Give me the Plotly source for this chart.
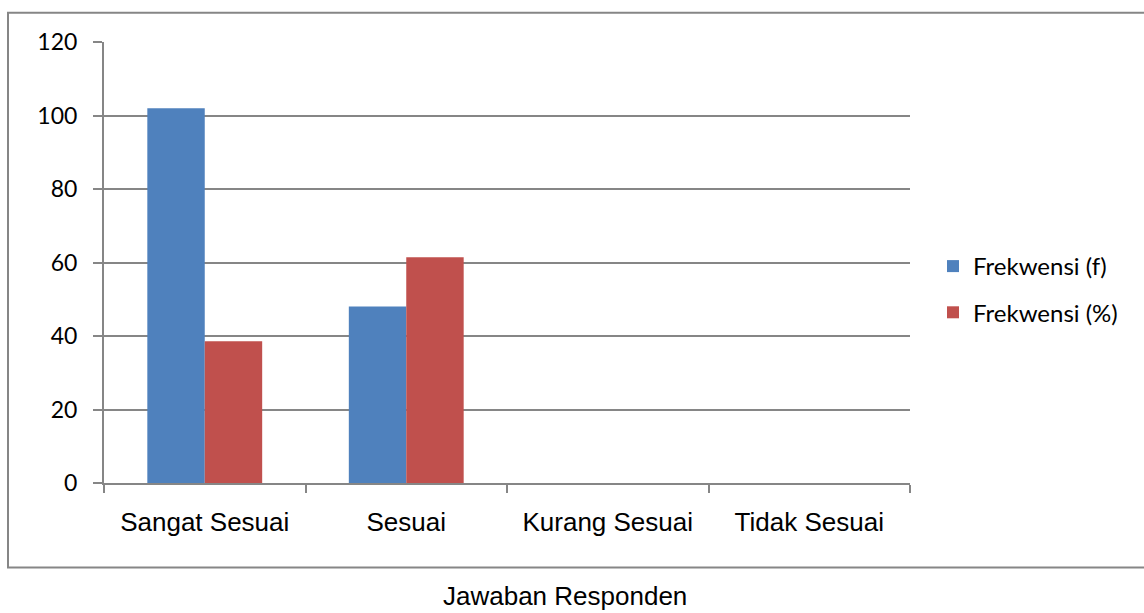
import plotly.graph_objects as go

# Kategori jawaban dan nilai tiap seri
categories = ["Sangat Sesuai", "Sesuai", "Kurang Sesuai", "Tidak Sesuai"]
freq_f = [102, 48, 0, 0]
freq_pct = [38.6, 61.4, 0, 0]
series_names = ["Frekwensi (f)", "Frekwensi (%)"]
y_ticks = [0, 20, 40, 60, 80, 100, 120]
x_title = "Jawaban Responden"

W, H = 1144, 613
L, R = 104, 910          # plot area left/right (px)
TOP, BOT = 42.3, 482.7   # plot area top/bottom (px)

def px_x(p):
    return (p - L) / (R - L)

def px_y(p):
    return (BOT - p) / (BOT - TOP)

GRAY = "#868686"
calibri_like = "Lato, 'Open Sans', sans-serif"
arial_like = "'Liberation Sans', Arial, sans-serif"

fig = go.Figure()
fig.add_trace(go.Bar(x=categories, y=freq_f, name=series_names[0],
                     marker=dict(color="#4F81BD", line=dict(width=0)),
                     legendgroup="a"))
fig.add_trace(go.Bar(x=categories, y=freq_pct, name=series_names[1],
                     marker=dict(color="#C0504D", line=dict(width=0)),
                     legendgroup="b"))

fig.update_layout(
    width=W, height=H,
    margin=dict(l=L, r=W - R, t=TOP, b=H - BOT, pad=0),
    paper_bgcolor="white", plot_bgcolor="white",
    barmode="group", bargap=0.43, bargroupgap=0,
    showlegend=True,
    legend=dict(
        xref="container", yref="container",
        x=933 / W, y=1 - 244 / H, xanchor="left", yanchor="top",
        font=dict(family=calibri_like, size=24, color="black"),
        tracegroupgap=12, traceorder="grouped",
        bgcolor="rgba(0,0,0,0)", borderwidth=0,
    ),
    xaxis=dict(
        type="category", tickson="boundaries", ticks="outside",
        ticklen=8, tickwidth=2, tickcolor=GRAY,
        showline=True, linecolor=GRAY, linewidth=2,
        showgrid=False, zeroline=False,
        tickfont=dict(family=arial_like, size=26, color="black"),
        ticklabelstandoff=15,
    ),
    yaxis=dict(
        range=[0, 120], tickvals=y_ticks, ticks="outside",
        ticklen=9, tickwidth=2, tickcolor=GRAY,
        showline=True, linecolor=GRAY, linewidth=2,
        showgrid=True, gridcolor=GRAY, gridwidth=2, zeroline=False,
        tickfont=dict(family=calibri_like, size=23, color="black"),
        ticklabelstandoff=11,
    ),
    shapes=[dict(
        type="rect", xref="paper", yref="paper",
        x0=px_x(8), x1=px_x(1150), y0=px_y(567), y1=px_y(13),
        line=dict(color=GRAY, width=2), fillcolor="rgba(0,0,0,0)",
        layer="below",
    )],
    annotations=[dict(
        text=x_title, xref="paper", yref="paper",
        x=px_x(565), y=px_y(596), xanchor="center", yanchor="middle",
        showarrow=False,
        font=dict(family=arial_like, size=26, color="black"),
    )],
)

fig.write_html("out.html")
